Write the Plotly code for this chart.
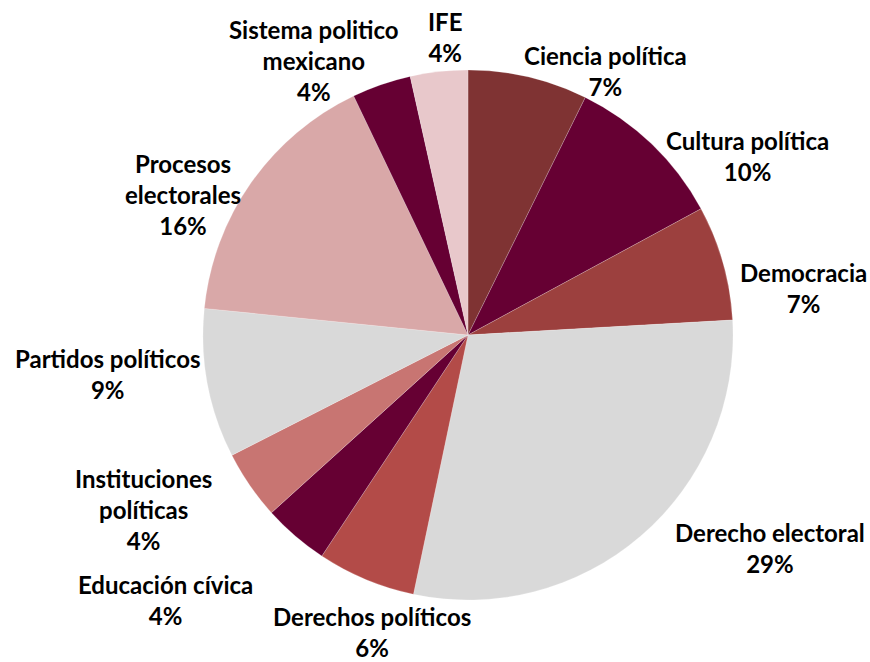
import plotly.graph_objects as go

# Temas (en orden de las manecillas del reloj, empezando arriba)
temas = ["Ciencia política", "Cultura política", "Democracia", "Derecho electoral",
         "Derechos políticos", "Educación cívica", "Instituciones políticas",
         "Partidos políticos", "Procesos electorales", "Sistema politico mexicano", "IFE"]
porcentaje = [7.3, 9.8, 7.0, 29.2, 6.0, 4.0, 4.2, 9.1, 16.3, 3.6, 3.5]
etiquetas = ["Ciencia política", "Cultura política", "Democracia", "Derecho electoral",
             "Derechos políticos", "Educación cívica", "Instituciones<br>políticas",
             "Partidos políticos", "Procesos<br>electorales", "Sistema politico<br>mexicano", "IFE"]

colores = ["#7F3333", "#660033", "#9C403E", "#D9D9D9", "#B34B48", "#660033",
           "#C87572", "#D9D9D9", "#D9A8A8", "#660033", "#E8C8CB"]

W, H = 870, 662
# label centres in pixels (Excel "best fit" placement)
label_px = [(605, 71), (747, 156), (803, 288), (770, 548), (372, 632), (165, 600),
            (143, 509), (107, 374), (183, 195), (314, 60), (446, 37)]

total = sum(porcentaje)

fig = go.Figure(go.Pie(
    labels=temas,
    values=porcentaje,
    sort=False,
    direction="clockwise",
    rotation=0,
    marker=dict(colors=colores, line=dict(color="rgba(255,255,255,0.4)", width=0.5)),
    textinfo="none",
    hoverinfo="label+percent",
    showlegend=False,
    domain=dict(x=[(468 - 265) / W, (468 + 265) / W], y=[(H - 335 - 265) / H, (H - 335 + 265) / H]),
))

for lab, v, (px_, py_) in zip(etiquetas, porcentaje, label_px):
    fig.add_annotation(
        x=px_ / W, y=1 - py_ / H, xref="paper", yref="paper",
        text=f"<b>{lab}<br>{round(v / total * 100):.0f}%</b>",
        showarrow=False, xanchor="center", yanchor="middle", align="center",
        font=dict(family="Lato", size=24, color="#000000"),
    )

fig.update_layout(
    width=W, height=H,
    margin=dict(l=0, r=0, t=0, b=0),
    paper_bgcolor="white",
    plot_bgcolor="white",
)

fig.write_html("out.html", config={"displayModeBar": False},
               post_script="document.body.style.margin='0px';")
